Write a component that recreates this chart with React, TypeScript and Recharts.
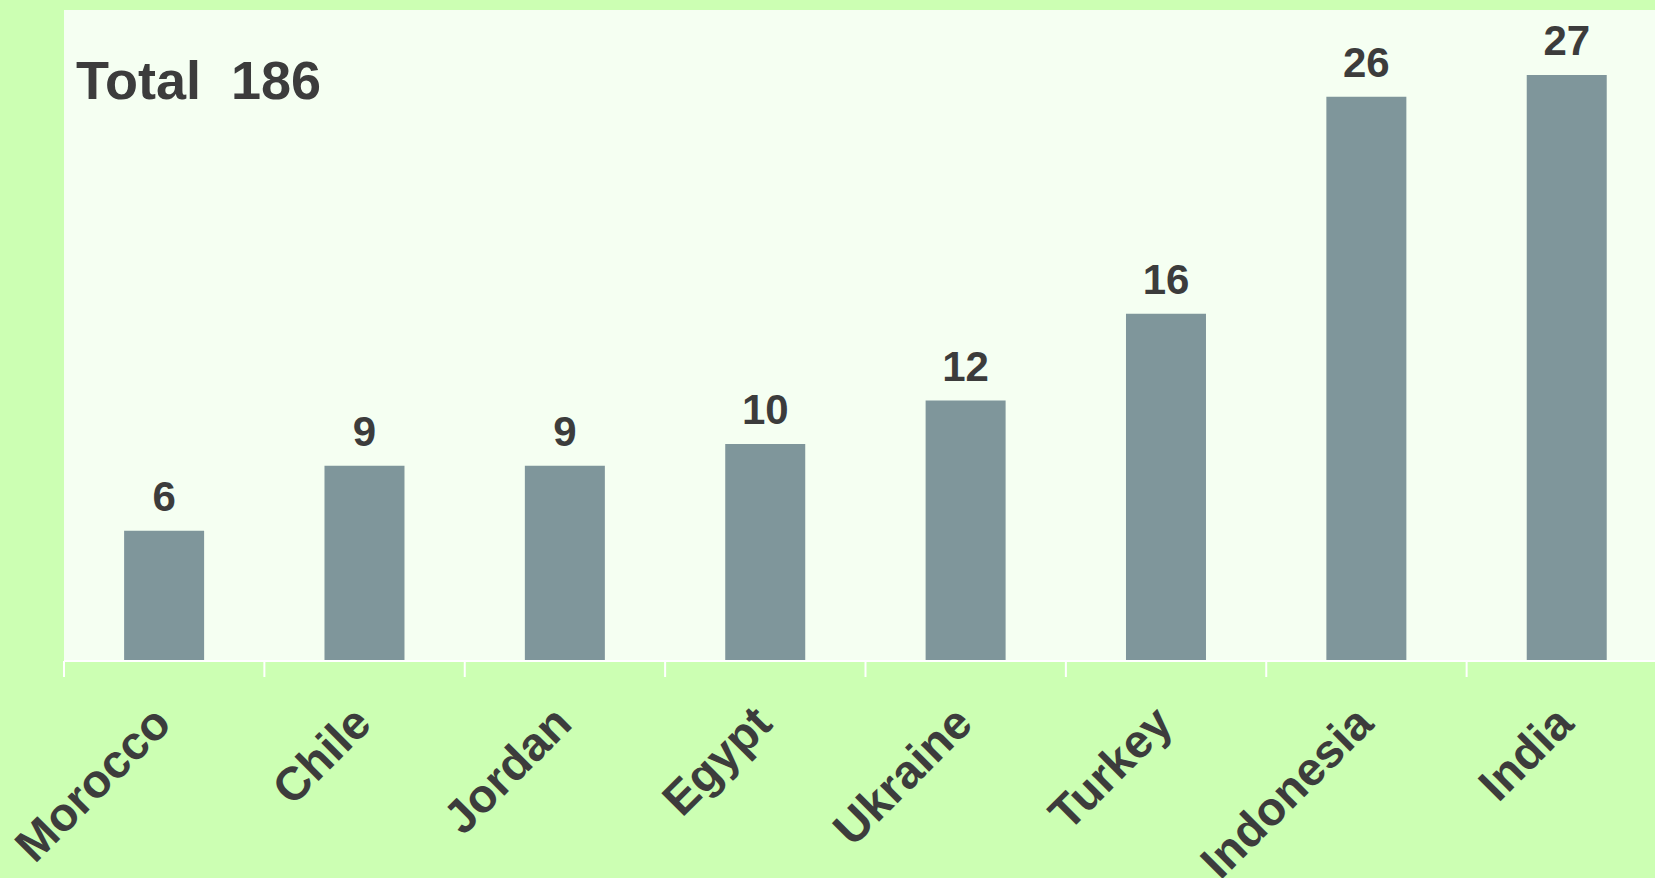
import React from "react";
import { BarChart, Bar, XAxis, YAxis, CartesianGrid, LabelList, Customized } from "recharts";

const countries = ["Morocco", "Chile", "Jordan", "Egypt", "Ukraine", "Turkey", "Indonesia", "India"];
const counts = [6, 9, 9, 10, 12, 16, 26, 27];
const totalLabel = "Total";
const totalValue = 186;

const data = countries.map((c, i) => ({ country: c, value: counts[i] }));

const CHART_W = 1667;
const CHART_H = 878;
const M_LEFT = 64;
const M_TOP = 10;
const BAND = (CHART_W - M_LEFT) / countries.length;
const TEXT = "#3c3c3c";
const FONT = "'Liberation Sans', Arial, sans-serif";

const Tick = (props: any) => {
  const { x, y, payload } = props;
  const bx = x - BAND / 2;
  return (
    <g>
      <line x1={bx} y1={y} x2={bx} y2={y + 16} stroke="#ffffff" strokeWidth={2} />
      <text
        x={x + 9}
        y={y + 65}
        transform={`rotate(-45, ${x + 9}, ${y + 65})`}
        textAnchor="end"
        fill={TEXT}
        fontSize={47}
        fontWeight="bold"
        fontFamily={FONT}
      >
        {payload.value}
      </text>
    </g>
  );
};

const TotalText = () => (
  <text x={76} y={99} fill={TEXT} fontSize={54} fontWeight="bold" fontFamily={FONT}>
    {`${totalLabel}\u00a0\u00a0${totalValue}`}
  </text>
);

export default function App() {
  return (
    <div
      style={{
        position: "fixed",
        left: 0,
        top: 0,
        width: 1655,
        height: 878,
        overflow: "hidden",
        background: "#ccffb3",
      }}
    >
      <BarChart
        width={CHART_W}
        height={CHART_H}
        data={data}
        margin={{ top: M_TOP, right: 0, bottom: 0, left: M_LEFT }}
        barCategoryGap="30%"
      >
        <CartesianGrid fill="#f5fff2" stroke="none" horizontal={false} vertical={false} />
        <YAxis hide domain={[0, 30]} />
        <XAxis
          dataKey="country"
          height={217}
          interval={0}
          tickSize={0}
          tickMargin={0}
          tickLine={false}
          axisLine={{ stroke: "#ffffff", strokeWidth: 2 }}
          tick={<Tick />}
        />
        <Bar dataKey="value" fill="#7f969b" isAnimationActive={false}>
          <LabelList
            dataKey="value"
            position="top"
            offset={20}
            fill={TEXT}
            fontSize={42}
            fontWeight="bold"
            fontFamily={FONT}
          />
        </Bar>
        <Customized component={TotalText} />
      </BarChart>
    </div>
  );
}
